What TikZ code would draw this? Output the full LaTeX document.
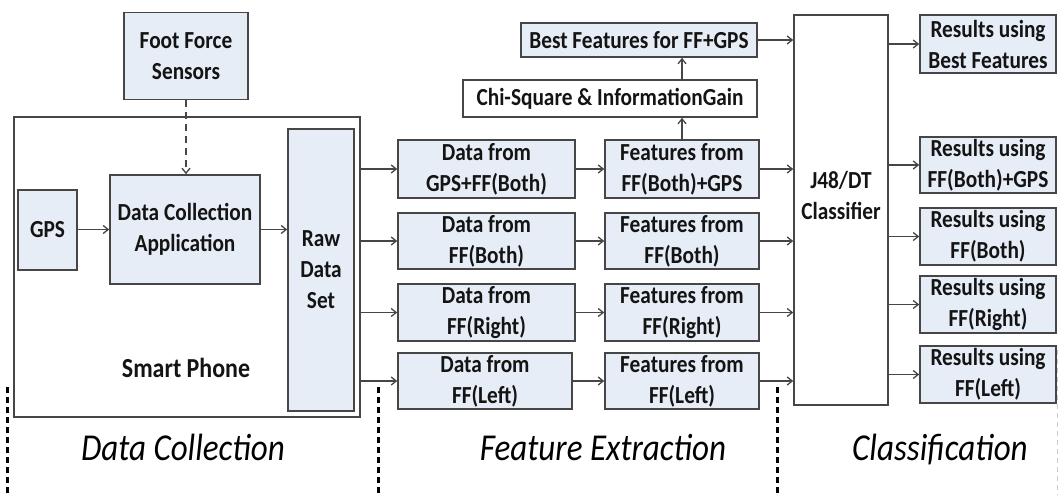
\documentclass[tikz,border=0pt]{standalone}
\usepackage{fontspec}
\setmainfont{Carlito}[FakeStretch=0.87]
\usetikzlibrary{arrows.meta}
\definecolor{boxfill}{RGB}{231,237,246}
\definecolor{edge}{RGB}{70,70,70}
\definecolor{ink}{RGB}{20,20,20}
\tikzset{
  box/.style={draw=edge, line width=1.6pt, rectangle, inner sep=0pt, align=center,
    text=ink, font=\bfseries\fontsize{24.5}{31}\selectfont},
  bluebox/.style={box, fill=boxfill},
  whitebox/.style={box, fill=white},
  link/.style={draw=edge, line width=1.3pt, -{Straight Barb[length=5pt,width=8pt]}},
  dashlink/.style={link, dash pattern=on 7pt off 5pt},
  divider/.style={draw=black, line width=3pt, dash pattern=on 6pt off 4pt},
  stage/.style={text=black, font=\itshape\fontsize{38}{40}\selectfont},
  plain/.style={text=ink, align=center, font=\bfseries\fontsize{24.5}{31}\selectfont}
}
\begin{document}
\begin{tikzpicture}[x=1pt, y=-1pt]
\useasboundingbox (0,0) rectangle (1059,495);

% data collection stage
\node[box, fill=white, minimum width=346pt, minimum height=300pt] (phone) at (187,267) {};
\node[plain, font=\bfseries\fontsize{27.5}{31}\selectfont] (phonelbl) at (186,368) {Smart Phone};
\node[bluebox, minimum width=124pt, minimum height=87pt] (ffs) at (186,56) {Foot Force\\Sensors};
\node[bluebox, minimum width=59pt, minimum height=80pt] (gps) at (47.5,230) {GPS};
\node[bluebox, minimum width=150pt, minimum height=109pt] (dca) at (185,229.5) {Data Collection\\Application};
\node[bluebox, minimum width=66pt, minimum height=282pt] (raw) at (321,270) {Raw\\Data\\Set};

% feature extraction stage
\node[bluebox, minimum width=177pt, minimum height=58pt] (d1) at (486.5,169) {Data from\\GPS+FF(Both)};
\node[bluebox, minimum width=177pt, minimum height=56pt] (d2) at (486.5,241) {Data from\\FF(Both)};
\node[bluebox, minimum width=177pt, minimum height=57pt] (d3) at (486.5,312.5) {Data from\\FF(Right)};
\node[bluebox, minimum width=174pt, minimum height=56pt] (d4) at (485,381) {Data from\\FF(Left)};

\node[bluebox, minimum width=154pt, minimum height=58pt] (f1) at (682,169) {Features from\\FF(Both)+GPS};
\node[bluebox, minimum width=154pt, minimum height=56pt] (f2) at (682,241) {Features from\\FF(Both)};
\node[bluebox, minimum width=154pt, minimum height=57pt] (f3) at (682,312.5) {Features from\\FF(Right)};
\node[bluebox, minimum width=154pt, minimum height=56pt] (f4) at (682,381) {Features from\\FF(Left)};

\node[whitebox, minimum width=294pt, minimum height=37pt] (chi) at (610,98.5) {Chi-Square \& InformationGain};
\node[bluebox, minimum width=236pt, minimum height=34pt] (best) at (639,40) {Best Features for FF+GPS};

% classification stage
\node[whitebox, minimum width=94pt, minimum height=390pt] (j48) at (841,210) {};
\node[plain] (j48lbl) at (841,195) {J48/DT\\Classifier};

\node[bluebox, minimum width=136pt, minimum height=58pt] (r1) at (988,44) {Results using\\Best Features};
\node[bluebox, minimum width=136pt, minimum height=56pt] (r2) at (988,165) {Results using\\FF(Both)+GPS};
\node[bluebox, minimum width=136pt, minimum height=57pt] (r3) at (988,236.5) {Results using\\FF(Both)};
\node[bluebox, minimum width=136pt, minimum height=57pt] (r4) at (988,304.5) {Results using\\FF(Right)};
\node[bluebox, minimum width=136pt, minimum height=57pt] (r5) at (988,374.5) {Results using\\FF(Left)};

% connectors inside the phone
\draw[dashlink] (ffs.south) -- (ffs.south |- dca.north);
\draw[link] (gps.east |- dca.west) -- (dca.west);
\draw[link] (dca.east) -- (raw.west |- dca.east);

% raw data to the four data sets
\foreach \d in {d1,d2,d3,d4}
  \draw[link] (phone.east |- \d.west) -- (\d.west);
% data sets to features
\foreach \d/\f in {d1/f1,d2/f2,d3/f3,d4/f4}
  \draw[link] (\d.east |- \f.west) -- (\f.west);
% features to the classifier
\foreach \f in {f1,f2,f3,f4}
  \draw[link] (\f.east) -- (j48.west |- \f.east);
% feature selection branch
\draw[link] (f1.north) -- (chi.south -| f1.north);
\draw[link] (chi.north -| f1.north) -- (best.south -| f1.north);
\draw[link] (best.east) -- (j48.west |- best.east);
% classifier to results
\foreach \r in {r1,r2,r3,r4,r5}
  \draw[link] (j48.east |- \r.west) -- (\r.west);

% stage dividers and titles
\coordinate (v1t) at (7,387);   \coordinate (v1b) at (7,495);
\coordinate (v2t) at (378,387); \coordinate (v2b) at (378,495);
\coordinate (v3t) at (777,387); \coordinate (v3b) at (777,495);
\coordinate (v4t) at (1057.5,350); \coordinate (v4b) at (1057.5,495);
\draw[divider] (v1t) -- (v1b);
\draw[divider] (v2t) -- (v2b);
\draw[divider] (v3t) -- (v3b);
\draw[draw=black!20, line width=1.5pt, dash pattern=on 5pt off 4pt] (v4t) -- (v4b);

\node[stage] (s1) at (183,447) {Data Collection};
\node[stage] (s2) at (603,448) {Feature Extraction};
\node[stage] (s3) at (940,450) {Classification};
\end{tikzpicture}
\end{document}
